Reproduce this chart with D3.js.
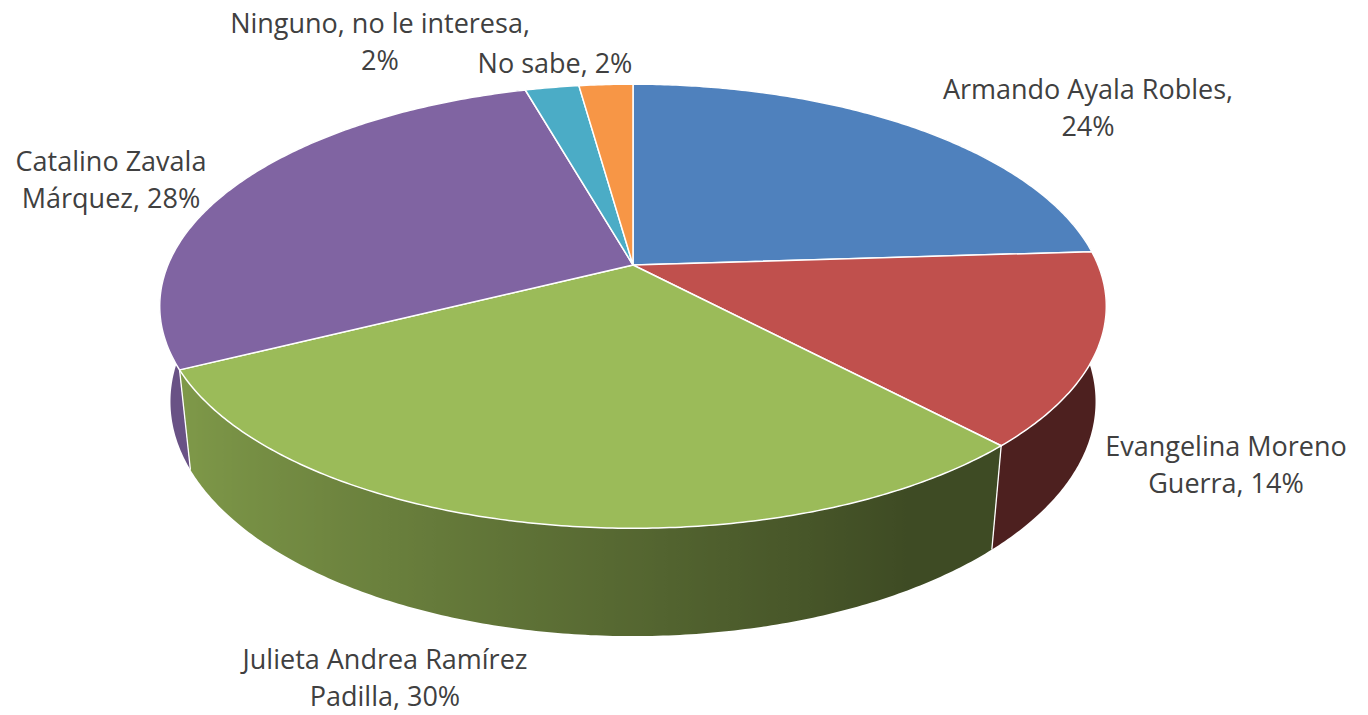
<!DOCTYPE html>
<html>
<head>
<meta charset="utf-8">
<title>Pie 3D</title>
<script src="https://d3js.org/d3.v7.min.js"></script>
<style>
body { margin: 0; background: #fff; }
.label { font-family: "Open Sans", sans-serif; font-size: 27px; fill: #404040; }
</style>
</head>
<body>
<script>
// ---- data ----
const candidates = ["Armando Ayala Robles", "Evangelina Moreno Guerra", "Julieta Andrea Ramírez Padilla",
                    "Catalino Zavala Márquez", "Ninguno, no le interesa", "No sabe"];
const shares = [24, 14, 29.6, 28, 2.2, 2.2];
const labelLines = [
  ["Armando Ayala Robles,", "24%"],
  ["Evangelina Moreno", "Guerra, 14%"],
  ["Julieta Andrea Ramírez", "Padilla, 30%"],
  ["Catalino Zavala", "Márquez, 28%"],
  ["Ninguno, no le interesa,", "2%"],
  ["No sabe, 2%"]
];
const colors = ["#4f81bd", "#c0504d", "#9bbb59", "#8064a2", "#4bacc6", "#f79646"];

// label anchors (centre of first line), layout only
const labelLayout = [[1088, 88], [1226, 445], [385, 658], [111, 160], [380, 22], [555, 62]];

const width = 1368, height = 715;

// ---- 3d projection of a unit pie ----
const cx = 633, cy = 265;
const tilt = Math.asin(0.461);
const camDist = 4.78, focal = 2223, depth = 0.233;

function project(X, Y, Z) {
  const yc = Y * Math.cos(tilt) + Z * Math.sin(tilt);
  const zc = -Y * Math.sin(tilt) + Z * Math.cos(tilt);
  return [cx + focal * X / (camDist + zc), cy - focal * yc / (camDist + zc)];
}
// angle clockwise from 12 o'clock, 12 o'clock is the far side
function rim(a, Y) { return project(Math.sin(a), Y, Math.cos(a)); }

const svg = d3.select("body").append("svg")
  .attr("width", width)
  .attr("height", height);

const defs = svg.append("defs");
const pie = d3.pie().sort(null).value(d => d)(shares);
const line = d3.line();

function shade(c, k) {
  const col = d3.rgb(c);
  return d3.rgb(col.r * k, col.g * k, col.b * k).formatHex();
}
function wallShade(a) {
  return Math.min(0.82, Math.max(0.4, 0.55 - 0.3 * Math.sin(a)));
}
function samples(p, step) {
  const n = Math.max(4, Math.ceil((p.endAngle - p.startAngle) / step));
  return d3.range(n + 1).map(j => p.startAngle + (p.endAngle - p.startAngle) * j / n);
}

// ---- side walls, far to near, shaded with a horizontal gradient ----
const walls = pie.map((p, i) => ({ p, i, z: Math.cos((p.startAngle + p.endAngle) / 2) }))
  .sort((a, b) => b.z - a.z);

walls.forEach(w => {
  const angs = samples(w.p, 0.01);
  const front = angs.filter(a => Math.cos(a) < 0.15)
    .map(a => ({ x: rim(a, 0)[0], c: shade(colors[w.i], wallShade(a)) }))
    .sort((a, b) => a.x - b.x);
  let fill = shade(colors[w.i], wallShade((w.p.startAngle + w.p.endAngle) / 2));
  if (front.length > 1) {
    const x0 = front[0].x, x1 = front[front.length - 1].x;
    const g = defs.append("linearGradient")
      .attr("id", "wall" + w.i)
      .attr("gradientUnits", "userSpaceOnUse")
      .attr("x1", x0).attr("x2", x1).attr("y1", 0).attr("y2", 0);
    g.selectAll("stop")
      .data(front)
      .join("stop")
        .attr("offset", d => x1 > x0 ? (d.x - x0) / (x1 - x0) : 0)
        .attr("stop-color", d => d.c);
    fill = "url(#wall" + w.i + ")";
  }
  const pts = angs.map(a => rim(a, 0)).concat(angs.slice().reverse().map(a => rim(a, -depth)));
  svg.append("path")
    .attr("d", line(pts) + "Z")
    .attr("fill", fill);
});

// white edges at slice boundaries on the front wall
svg.append("g").selectAll("line")
  .data(pie.filter(p => Math.cos(p.startAngle) < 0.1))
  .join("line")
    .attr("x1", d => rim(d.startAngle, 0)[0])
    .attr("y1", d => rim(d.startAngle, 0)[1])
    .attr("x2", d => rim(d.startAngle, -depth)[0])
    .attr("y2", d => rim(d.startAngle, -depth)[1])
    .attr("stroke", "#fff")
    .attr("stroke-width", 1.3);

// ---- top faces ----
svg.append("g").selectAll("path")
  .data(pie)
  .join("path")
    .attr("d", p => line([project(0, 0, 0)].concat(samples(p, 0.01).map(a => rim(a, 0)))) + "Z")
    .attr("fill", (p, i) => colors[i])
    .attr("stroke", "#fff")
    .attr("stroke-width", 1.5)
    .attr("stroke-linejoin", "round");

// ---- labels ----
const labels = svg.append("g").selectAll("text")
  .data(labelLines)
  .join("text")
    .attr("class", "label")
    .attr("text-anchor", "middle")
    .attr("dominant-baseline", "central");

labels.selectAll("tspan")
  .data((d, i) => d.map((t, j) => ({ t, j, pos: labelLayout[i] })))
  .join("tspan")
    .attr("x", d => d.pos[0])
    .attr("y", d => d.pos[1] + d.j * 37)
    .text(d => d.t);
</script>
</body>
</html>
